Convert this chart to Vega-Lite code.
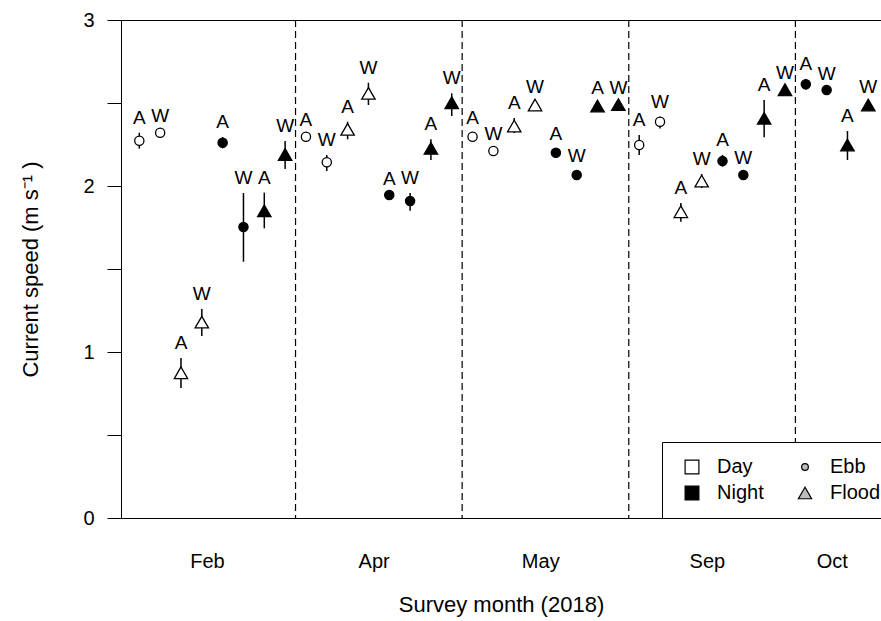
{
  "$schema": "https://vega.github.io/schema/vega-lite/v6.json",
  "description": "Current speed by survey month, day/night and ebb/flood, with A/W labels.",
  "width": 760,
  "height": 498,
  "autosize": {"type": "none"},
  "padding": {"left": 121, "top": 20, "right": 0, "bottom": 103},
  "background": "white",
  "config": {
    "view": {"stroke": "black", "strokeWidth": 1},
    "font": "Liberation Sans",
    "axis": {
      "grid": false,
      "domainColor": "black",
      "tickColor": "black",
      "labelColor": "black",
      "titleColor": "black",
      "labelFont": "Liberation Sans",
      "titleFont": "Liberation Sans",
      "titleFontWeight": "normal",
      "labelFontSize": 20,
      "titleFontSize": 22
    },
    "legend": {
      "labelFont": "Liberation Sans",
      "labelFontSize": 20,
      "labelColor": "black"
    }
  },
  "datasets": {
    "speeds": [
      {"i": 1, "month": "Feb", "period": "Day", "tide": "Ebb", "lab": "A", "speed": 2.273, "lo": 2.225, "hi": 2.321},
      {"i": 2, "month": "Feb", "period": "Day", "tide": "Ebb", "lab": "W", "speed": 2.321, "lo": 2.311, "hi": 2.33},
      {"i": 3, "month": "Feb", "period": "Day", "tide": "Flood", "lab": "A", "speed": 0.875, "lo": 0.783, "hi": 0.964},
      {"i": 4, "month": "Feb", "period": "Day", "tide": "Flood", "lab": "W", "speed": 1.18, "lo": 1.096, "hi": 1.259},
      {"i": 5, "month": "Feb", "period": "Night", "tide": "Ebb", "lab": "A", "speed": 2.261, "lo": 2.227, "hi": 2.295},
      {"i": 6, "month": "Feb", "period": "Night", "tide": "Ebb", "lab": "W", "speed": 1.753, "lo": 1.544, "hi": 1.958},
      {"i": 7, "month": "Feb", "period": "Night", "tide": "Flood", "lab": "A", "speed": 1.85, "lo": 1.745, "hi": 1.96},
      {"i": 8, "month": "Feb", "period": "Night", "tide": "Flood", "lab": "W", "speed": 2.19, "lo": 2.102, "hi": 2.271},
      {"i": 9, "month": "Apr", "period": "Day", "tide": "Ebb", "lab": "A", "speed": 2.297, "lo": 2.285, "hi": 2.309},
      {"i": 10, "month": "Apr", "period": "Day", "tide": "Ebb", "lab": "W", "speed": 2.143, "lo": 2.09, "hi": 2.187},
      {"i": 11, "month": "Apr", "period": "Day", "tide": "Flood", "lab": "A", "speed": 2.341, "lo": 2.281, "hi": 2.387},
      {"i": 12, "month": "Apr", "period": "Day", "tide": "Flood", "lab": "W", "speed": 2.558, "lo": 2.488, "hi": 2.622},
      {"i": 13, "month": "Apr", "period": "Night", "tide": "Ebb", "lab": "A", "speed": 1.946, "lo": 1.943, "hi": 1.949},
      {"i": 14, "month": "Apr", "period": "Night", "tide": "Ebb", "lab": "W", "speed": 1.91, "lo": 1.851, "hi": 1.958},
      {"i": 15, "month": "Apr", "period": "Night", "tide": "Flood", "lab": "A", "speed": 2.227, "lo": 2.157, "hi": 2.281},
      {"i": 16, "month": "Apr", "period": "Night", "tide": "Flood", "lab": "W", "speed": 2.502, "lo": 2.422, "hi": 2.558},
      {"i": 17, "month": "May", "period": "Day", "tide": "Ebb", "lab": "A", "speed": 2.297, "lo": 2.275, "hi": 2.319},
      {"i": 18, "month": "May", "period": "Day", "tide": "Ebb", "lab": "W", "speed": 2.211, "lo": 2.202, "hi": 2.22},
      {"i": 19, "month": "May", "period": "Day", "tide": "Flood", "lab": "A", "speed": 2.361, "lo": 2.32, "hi": 2.41},
      {"i": 20, "month": "May", "period": "Day", "tide": "Flood", "lab": "W", "speed": 2.488, "lo": 2.468, "hi": 2.508},
      {"i": 21, "month": "May", "period": "Night", "tide": "Ebb", "lab": "A", "speed": 2.2, "lo": 2.178, "hi": 2.222},
      {"i": 22, "month": "May", "period": "Night", "tide": "Ebb", "lab": "W", "speed": 2.066, "lo": 2.043, "hi": 2.089},
      {"i": 23, "month": "May", "period": "Night", "tide": "Flood", "lab": "A", "speed": 2.482, "lo": 2.461, "hi": 2.503},
      {"i": 24, "month": "May", "period": "Night", "tide": "Flood", "lab": "W", "speed": 2.49, "lo": 2.48, "hi": 2.5},
      {"i": 25, "month": "Sep", "period": "Day", "tide": "Ebb", "lab": "A", "speed": 2.247, "lo": 2.187, "hi": 2.307},
      {"i": 26, "month": "Sep", "period": "Day", "tide": "Ebb", "lab": "W", "speed": 2.387, "lo": 2.347, "hi": 2.417},
      {"i": 27, "month": "Sep", "period": "Day", "tide": "Flood", "lab": "A", "speed": 1.845, "lo": 1.785, "hi": 1.898},
      {"i": 28, "month": "Sep", "period": "Day", "tide": "Flood", "lab": "W", "speed": 2.03, "lo": 1.988, "hi": 2.072},
      {"i": 29, "month": "Sep", "period": "Night", "tide": "Ebb", "lab": "A", "speed": 2.15, "lo": 2.116, "hi": 2.187},
      {"i": 30, "month": "Sep", "period": "Night", "tide": "Ebb", "lab": "W", "speed": 2.066, "lo": 2.051, "hi": 2.081},
      {"i": 31, "month": "Sep", "period": "Night", "tide": "Flood", "lab": "A", "speed": 2.408, "lo": 2.293, "hi": 2.518},
      {"i": 32, "month": "Sep", "period": "Night", "tide": "Flood", "lab": "W", "speed": 2.58, "lo": 2.57, "hi": 2.59},
      {"i": 33, "month": "Oct", "period": "Night", "tide": "Ebb", "lab": "A", "speed": 2.613, "lo": 2.58, "hi": 2.645},
      {"i": 34, "month": "Oct", "period": "Night", "tide": "Ebb", "lab": "W", "speed": 2.578, "lo": 2.574, "hi": 2.582},
      {"i": 35, "month": "Oct", "period": "Night", "tide": "Flood", "lab": "A", "speed": 2.247, "lo": 2.157, "hi": 2.331},
      {"i": 36, "month": "Oct", "period": "Night", "tide": "Flood", "lab": "W", "speed": 2.488, "lo": 2.471, "hi": 2.505}
    ],
    "separators": [
      {"at": 8.5},
      {"at": 16.5},
      {"at": 24.5},
      {"at": 32.5}
    ]
  },
  "layer": [
    {
      "data": {"name": "separators"},
      "mark": {"type": "rule", "color": "black", "strokeWidth": 1.2, "strokeDash": [7, 4]},
      "encoding": {
        "x": {
          "field": "at",
          "type": "quantitative",
          "title": "Survey month (2018)",
          "scale": {"domain": [0.12, 36.61], "nice": false, "zero": false},
          "axis": {
            "values": [4.25, 12.25, 20.25, 28.25, 34.25],
            "labelExpr": "datum.value < 8 ? 'Feb' : datum.value < 16 ? 'Apr' : datum.value < 24 ? 'May' : datum.value < 32 ? 'Sep' : 'Oct'",
            "ticks": false,
            "labelPadding": 33,
            "titlePadding": 23,
            "labelFlush": false,
            "labelOverlap": false
          }
        }
      }
    },
    {
      "data": {"name": "speeds"},
      "mark": {"type": "rule", "color": "black", "strokeWidth": 1.5},
      "encoding": {
        "x": {"field": "i", "type": "quantitative", "title": "Survey month (2018)"},
        "y": {
          "field": "lo",
          "type": "quantitative",
          "title": "Current speed (m s⁻¹ )",
          "scale": {"domain": [0, 3], "nice": false, "zero": true},
          "axis": {
            "values": [0, 0.5, 1, 1.5, 2, 2.5, 3],
            "labelExpr": "datum.value % 1 == 0 ? format(datum.value, 'd') : ''",
            "tickSize": 14,
            "labelPadding": 13,
            "titlePadding": 40,
            "labelFlush": false,
            "labelOverlap": false
          }
        },
        "y2": {"field": "hi"}
      }
    },
    {
      "data": {"name": "speeds"},
      "mark": {"type": "point", "filled": true, "opacity": 1, "stroke": "black", "strokeWidth": 1.3},
      "encoding": {
        "x": {"field": "i", "type": "quantitative", "title": "Survey month (2018)"},
        "y": {"field": "speed", "type": "quantitative", "title": "Current speed (m s⁻¹ )"},
        "fill": {
          "condition": {"test": "datum.period == 'Night'", "value": "black"},
          "value": "white"
        },
        "shape": {
          "condition": {"test": "datum.tide == 'Flood'", "value": "triangle-up"},
          "value": "circle"
        },
        "size": {
          "condition": {"test": "datum.tide == 'Flood'", "value": 180},
          "value": 85
        }
      }
    },
    {
      "data": {"name": "speeds"},
      "mark": {"type": "text", "font": "Liberation Sans", "fontSize": 19, "color": "black", "align": "center", "baseline": "alphabetic", "dy": -9},
      "encoding": {
        "x": {"field": "i", "type": "quantitative", "title": "Survey month (2018)"},
        "y": {"field": "hi", "type": "quantitative", "title": "Current speed (m s⁻¹ )"},
        "text": {"field": "lab"}
      }
    },
    {
      "data": {"values": []},
      "mark": {"type": "point", "filled": true, "opacity": 1, "stroke": "black", "strokeWidth": 1.2},
      "encoding": {
        "fill": {
          "field": "key",
          "type": "nominal",
          "title": null,
          "scale": {"domain": ["Day", "Night", "Ebb", "Flood"], "range": ["white", "black", "#bdbdbd", "#bdbdbd"]},
          "legend": {
            "orient": "none",
            "legendX": 541,
            "legendY": 422,
            "columns": 2,
            "direction": "vertical",
            "strokeColor": "black",
            "fillColor": "white",
            "padding": 15,
            "rowPadding": 6,
            "columnPadding": 26,
            "symbolOffset": 5,
            "labelOffset": 15,
            "symbolSize": 190,
            "symbolStrokeColor": "black",
            "symbolStrokeWidth": 1.2,
            "labelLimit": 200,
            "cornerRadius": 0
          }
        },
        "shape": {
          "field": "key",
          "type": "nominal",
          "title": null,
          "scale": {"domain": ["Day", "Night", "Ebb", "Flood"], "range": ["square", "square", "circle", "triangle-up"]}
        },
        "size": {
          "field": "key",
          "type": "nominal",
          "title": null,
          "scale": {"type": "ordinal", "domain": ["Day", "Night", "Ebb", "Flood"], "range": [190, 190, 45, 175]}
        }
      }
    }
  ]
}
